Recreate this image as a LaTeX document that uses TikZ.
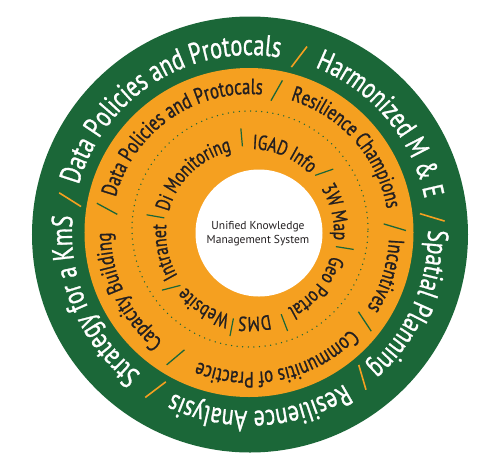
\documentclass[tikz,border=0pt]{standalone}
\usepackage{fontspec}
\setmainfont{PT Sans}[FakeStretch=0.76, FakeBold=1.0]
\newfontfamily\corefont{PT Sans}
\usetikzlibrary{decorations.text}
\definecolor{kgreen}{RGB}{27,103,56}
\definecolor{korange}{RGB}{245,160,32}
\definecolor{ktext}{RGB}{35,31,32}
\newcommand{\ringtext}[5]{%
  \path[decorate, decoration={text along path, text align=center, text color=#4,
     text={|\fontsize{#3}{#3}\selectfont|#5}}]
     ({#1+80}:#2) arc[start angle={#1+80}, end angle={#1-80}, radius=#2];
}
\newcommand{\sepline}[6]{%
  \draw[#5, line width=#6] ({#1+#4}:#2) -- ({#1-#4}:#3);
}
\tikzset{
  dotring/.style={kgreen, line width=1.5pt, line cap=round, dash pattern=on 0pt off 5.6pt}
}
\begin{document}
\begin{tikzpicture}[x=1pt,y=1pt]
\useasboundingbox (-250,-234) rectangle (250,233);
\fill[kgreen] (0,-1.5) circle[radius=218];
\fill[korange] (-1,0.5) circle[radius=164.5];
\draw[dotring] (0,4) circle[radius=118];
\fill[white] (9,0) circle[radius=63.5];
\node[name=core, align=center, text=ktext, font=\corefont\fontsize{11.5}{13.5}\selectfont] at (8,-0.5) {Unified Knowledge\\Management System};
% outer ring
\ringtext{122.3}{178}{29.5}{white}{Data Policies and Protocals}
\ringtext{39.8}{178}{29}{white}{Harmonized M {\&} E}
\ringtext{-24}{178}{29}{white}{Spatial Planning}
\ringtext{-86.8}{178}{29}{white}{Resilience Analysis}
\ringtext{203.4}{178}{29.5}{white}{Strategy for a KmS}
\foreach \a in {169.6,74.5,5,-52,-121} {\sepline{\a}{171}{195}{1.5}{korange}{1.6pt}}
% middle ring
\ringtext{125}{139}{22}{ktext}{Data Policies and Protocals}
\ringtext{41.5}{139}{21.5}{ktext}{Resilience Champions}
\ringtext{-17.5}{139}{22}{ktext}{Incentives}
\ringtext{-77.8}{139}{22}{ktext}{Communitis of Practice}
\ringtext{205.5}{139}{22}{ktext}{Capacity Building}
\foreach \a in {170.5,79.5,2.4,-37.5,-120.8} {\sepline{\a}{134}{156}{1.5}{kgreen}{1.3pt}}
% inner ring
\ringtext{66.5}{84}{20.5}{ktext}{IGAD Info}
\ringtext{13.7}{84}{20.5}{ktext}{3W Map}
\ringtext{-39.5}{84}{20.5}{ktext}{Geo Portal}
\ringtext{-87}{84}{20.5}{ktext}{DMS}
\ringtext{-121.8}{84}{20.5}{ktext}{Website}
\ringtext{-167.5}{84}{20.5}{ktext}{Intranet}
\ringtext{134}{84}{20.5}{ktext}{Di Monitoring}
\foreach \a/\t in {95/0,39.5/2,-9/0,-69/0,-101/0,-145/2,170/0} {\sepline{\a}{87}{105}{\t}{kgreen}{1.2pt}}
\end{tikzpicture}
\end{document}
